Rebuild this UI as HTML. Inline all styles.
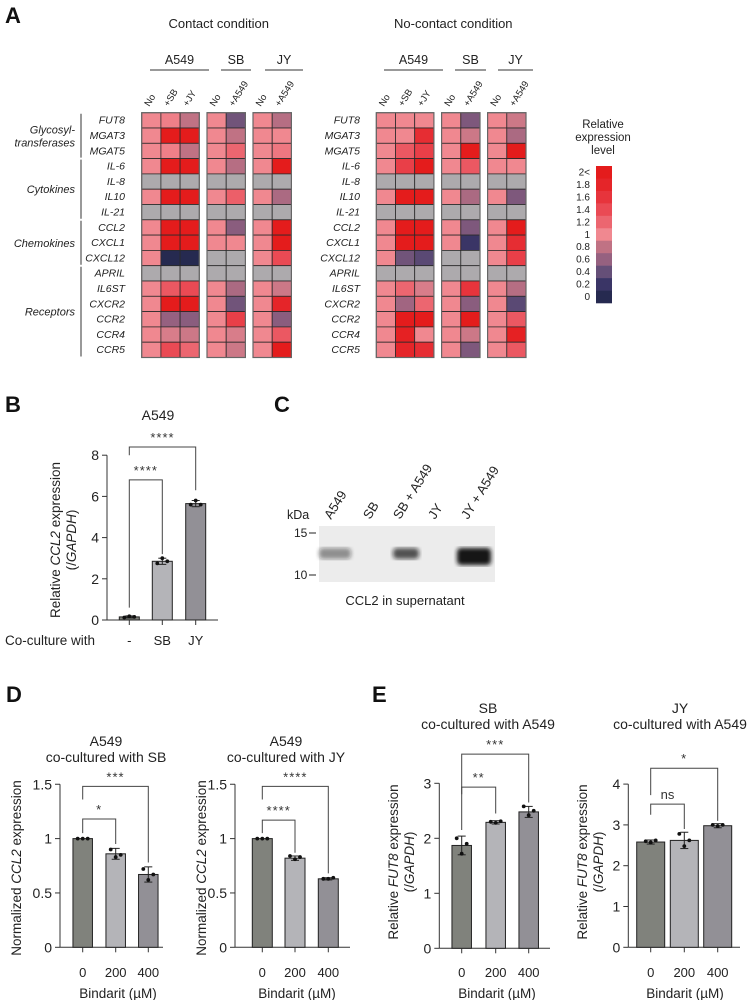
<!DOCTYPE html>
<html><head><meta charset="utf-8"><style>
body{margin:0;background:#fff}
svg{display:block;font-family:"Liberation Sans",sans-serif}
</style></head><body>
<svg id="fig" width="748" height="1000" viewBox="0 0 748 1000" xmlns="http://www.w3.org/2000/svg">
<defs>
<filter id="blur2"><feGaussianBlur stdDeviation="2.2"/></filter>
<filter id="blur1"><feGaussianBlur stdDeviation="1.2"/></filter>
</defs>
<g font-weight="bold" font-size="22" fill="#111">
<text x="5" y="23">A</text>
<text x="5" y="412">B</text>
<text x="274" y="412">C</text>
<text x="6" y="702">D</text>
<text x="372" y="702">E</text>
</g>
<g id="heat"></g>
<g id="legend"></g>
<g id="blot"></g>
<g id="bars"></g>
</svg>
<script>
const NS="http://www.w3.org/2000/svg";
function mk(parent,tag,attrs,text){const e=document.createElementNS(NS,tag);for(const k in attrs)e.setAttribute(k,attrs[k]);if(text!==undefined)e.textContent=text;parent.appendChild(e);return e;}

// ---------- Heatmap data ----------
const genes=["FUT8","MGAT3","MGAT5","IL-6","IL-8","IL10","IL-21","CCL2","CXCL1","CXCL12","APRIL","IL6ST","CXCR2","CCR2","CCR4","CCR5"];
const groups=[["Glycosyl-","transferases",0,2],["Cytokines","",3,6],["Chemokines","",7,9],["Receptors","",10,15]];
const colLabels=[["No","+SB","+JY"],["No","+A549"],["No","+A549"]];
const blockNames=["A549","SB","JY"];
const N=null;
// contact condition columns
const cA549No=[1,1,1,1,N,1,N,1,1,1,N,1,1,1,1,1];
const cA549SB=[1.05,2,1.05,2,N,2,N,2,2,0,N,1.3,2,0.6,0.9,1.4];
const cA549JY=[0.8,2,0.8,2,N,2,N,2,2,0,N,1.4,2,0.55,0.85,1.2];
const cSBNo=[1,1,1,1,N,1,N,1,1,N,N,1,1,1,1,1];
const cSBA549=[0.45,0.8,1.2,0.75,N,1.25,N,0.55,1.0,N,N,0.7,0.45,1.5,0.9,0.85];
const cJYNo=[1,1,1,1,N,1,N,1,1,1,N,1,1,1,1,1];
const cJYA549=[0.75,1,1.1,2,N,0.7,N,2,2,1.4,N,0.85,1.8,0.55,1.3,2];
// no-contact condition columns
const nA549No=[1,1,1,1,N,1,N,1,1,1,N,1,1,1,1,1];
const nA549SB=[1.0,1.0,1.3,1.5,N,2,N,2,2,0.45,N,1.2,0.65,2,1.9,1.8];
const nA549JY=[1.0,1.7,1.5,2,N,2,N,2,2,0.35,N,0.9,1.2,2,1.0,1.7];
const nSBNo=[1,1,1,1,N,1,N,1,1,N,N,1,1,1,1,1];
const nSBA549=[0.5,0.85,2,1.3,N,0.7,N,0.5,0.2,N,N,1.6,0.55,2,0.85,0.5];
const nJYNo=[1,1,1,1,N,1,N,1,1,1,N,1,1,1,1,1];
const nJYA549=[0.85,0.7,2,1.0,N,0.5,N,2,1.7,1.5,N,0.75,0.35,1.3,1.9,1.3];
const legendTicks=["2<","1.8","1.6","1.4","1.2","1","0.8","0.6","0.4","0.2","0"];

const stops=[[0,[38,42,80]],[0.2,[58,53,102]],[0.4,[101,79,120]],[0.6,[150,97,128]],[0.8,[192,114,132]],[1,[240,136,144]],[1.2,[236,102,112]],[1.4,[234,74,84]],[1.6,[231,52,60]],[1.8,[229,37,41]],[2,[228,28,28]]];
function color(v){if(v===null)return "#adaaad";v=Math.max(0,Math.min(2,v));for(let i=0;i<stops.length-1;i++){const a=stops[i],b=stops[i+1];if(v<=b[0]){const t=(v-a[0])/(b[0]-a[0]);const c=a[1].map((x,j)=>Math.round(x+(b[1][j]-x)*t));return `rgb(${c})`;}}return "rgb(228,28,28)";}

const heat=document.getElementById('heat');
const cellH=15.3, top0=112.7;
function drawHeat(ox,title,cols,labelX,blockLines){
  const g=mk(heat,'g',{});
  
  
  const tt=mk(g,'text',{x:ox+77,y:28,'text-anchor':'middle','font-size':13,fill:'#222'},title);
  
  
  const blockX=[0,65.3,111.3];
  const cw=19.2;
  cols.forEach((block,bi)=>{
    const bx=ox+blockX[bi];
    const nm=mk(g,'text',{x:blockLines[bi][0]+(blockLines[bi][1]-blockLines[bi][0])/2,y:64,'text-anchor':'middle','font-size':12.5,fill:'#222'},blockNames[bi]);
    
    
    mk(g,'line',{x1:blockLines[bi][0],x2:blockLines[bi][1],y1:70,y2:70,stroke:'#333','stroke-width':1});
    block.forEach((col,k)=>{
      const cx=bx+k*cw;
      const lb=mk(g,'text',{x:cx+cw/2-2,y:107,'font-size':9.5,fill:'#222',transform:`rotate(-58 ${cx+cw/2-2} 107)`},colLabels[bi][k]);
      
      
      col.forEach((v,r)=>{
        const c=mk(g,'rect',{x:cx,y:top0+r*cellH,width:cw,height:cellH,fill:color(v),stroke:'#2a2a2a','stroke-width':0.8});
        
        
      });
    });
    mk(g,'rect',{x:bx,y:top0,width:cw*block.length,height:cellH*genes.length,fill:'none',stroke:'#666','stroke-width':1.2});
  });
  genes.forEach((gn,r)=>{
    const t=mk(g,'text',{x:labelX,y:top0+r*cellH+11,'text-anchor':'end','font-size':10.5,'font-style':'italic',fill:'#222'},gn);
    
    
  });
}
drawHeat(141.7,"Contact condition",[[cA549No,cA549SB,cA549JY],[cSBNo,cSBA549],[cJYNo,cJYA549]],125,[[150,209],[221,251],[265,303]]);
drawHeat(376.3,"No-contact condition",[[nA549No,nA549SB,nA549JY],[nSBNo,nSBA549],[nJYNo,nJYA549]],360,[[384,443],[455,486],[498,533]]);
groups.forEach(gr=>{
  const y1=top0+gr[2]*cellH+1,y2=top0+(gr[3]+1)*cellH-1;
  mk(heat,'line',{x1:81,x2:81,y1:y1,y2:y2,stroke:'#333','stroke-width':1});
  const cy=(y1+y2)/2;
  if(gr[1]){
    const a=mk(heat,'text',{x:75,y:cy-2,'text-anchor':'end','font-size':11,'font-style':'italic',fill:'#222'},gr[0]);
    
    
    const b=mk(heat,'text',{x:75,y:cy+11,'text-anchor':'end','font-size':11,'font-style':'italic',fill:'#222'},gr[1]);
    
    
  } else {
    const a=mk(heat,'text',{x:75,y:cy+4,'text-anchor':'end','font-size':11,'font-style':'italic',fill:'#222'},gr[0]);
    
    
  }
});
// legend
const leg=document.getElementById('legend');
["Relative","expression","level"].forEach((s,i)=>{
  const t=mk(leg,'text',{x:603,y:128+i*13,'text-anchor':'middle','font-size':11.5,fill:'#222'},s);
  
  
});
const lh=(303-166)/legendTicks.length;
legendTicks.forEach((t,i)=>{
  const v=2-i*0.2;
  const r=mk(leg,'rect',{x:596,y:166+i*lh,width:16,height:lh+0.3,fill:color(v)});
  
  
  const tx=mk(leg,'text',{x:590,y:166+i*lh+9.5,'text-anchor':'end','font-size':10,fill:'#222'},t);
  
  
});

// ---------- Blot ----------
const blot=document.getElementById('blot');
const laneNames=["A549","SB","SB + A549","JY","JY + A549"];
const laneX=[337,376,406,441,474];
const bandIntensity=[0.25,0,0.6,0,1];
mk(blot,'rect',{x:319,y:526,width:176,height:56,fill:'#ececec'});
laneNames.forEach((n,i)=>{
  const t=mk(blot,'text',{x:laneX[i]-6,y:520,'font-size':13,fill:'#222',transform:`rotate(-58 ${laneX[i]-6} 520)`},n);
  
  
  const b=bandIntensity[i];
  if(b>0){
    const w=b>0.8?34:(b>0.4?26:32);
    const e=mk(blot,'rect',{x:laneX[i]-w/2+(i==0?-2:0),y:548,width:w,height:b>0.8?17:11,rx:4,fill:`rgba(20,20,20,${0.25+0.75*b})`,filter:'url(#blur2)'});
    
    
  }
});
mk(blot,'text',{x:287,y:519,'font-size':12.5,fill:'#222'},"kDa");
mk(blot,'text',{x:294,y:537,'font-size':12,fill:'#222'},"15");
mk(blot,'line',{x1:309,x2:316,y1:533,y2:533,stroke:'#222'});
mk(blot,'text',{x:294,y:579,'font-size':12,fill:'#222'},"10");
mk(blot,'line',{x1:309,x2:316,y1:575,y2:575,stroke:'#222'});
const cap=mk(blot,'text',{x:405,y:605,'text-anchor':'middle','font-size':13,fill:'#222'},"CCL2 in supernatant");



// ---------- Bar chart data ----------
const bCats=["-","SB","JY"];
const bMeans=[0.15,2.85,5.65];
const bSD=[0.05,0.15,0.15];
const bReps=[[0.12,0.18,0.15],[2.75,3.0,2.85],[5.6,5.8,5.6]];
const bTicks=[0,2,4,6,8];
const bSig=[[0,1,6.8,0.6,3.2,"****"],[0,2,8.4,8.0,6.3,"****"]];

const dCats=["0","200","400"];
const d1Means=[1,0.86,0.67];
const d1SD=[0,0.05,0.07];
const d1Reps=[[1,1,1],[0.9,0.83,0.85],[0.72,0.62,0.67]];
const d2Means=[1,0.82,0.63];
const d2SD=[0,0.02,0.01];
const d2Reps=[[1,1,1],[0.84,0.81,0.83],[0.63,0.63,0.64]];
const dTicks=[0,0.5,1,1.5];
const d1Sig=[[0,1,1.18,1.05,0.95,"*"],[0,2,1.48,1.36,0.78,"***"]];
const d2Sig=[[0,1,1.17,1.05,0.87,"****"],[0,2,1.48,1.36,0.68,"****"]];

const e1Means=[1.87,2.29,2.48];
const e1SD=[0.17,0.03,0.1];
const e1Reps=[[2.0,1.72,1.9],[2.3,2.28,2.31],[2.58,2.42,2.5]];
const e1Ticks=[0,1,2,3];
const e1Sig=[[0,1,2.93,2.8,2.45,"**"],[0,2,3.53,2.15,2.65,"***"]];
const e2Means=[2.58,2.62,2.98];
const e2SD=[0.05,0.2,0.05];
const e2Reps=[[2.6,2.57,2.62],[2.78,2.48,2.62],[3.0,2.97,3.0]];
const e2Ticks=[0,1,2,3,4];
const e2Sig=[[0,1,3.51,3.25,2.9,"ns"],[0,2,4.39,3.73,3.1,"*"]];

const barColors=["#80827c","#b4b4b8","#929096"];
const bars=document.getElementById('bars');
function barChart(o){
  const g=mk(bars,'g',{});
  
  
  const y=v=>o.y0-v*o.ppu;
  const x=i=>o.cx[i];
  mk(g,'line',{x1:o.ax,x2:o.ax,y1:y(o.ticks[o.ticks.length-1]),y2:o.y0,stroke:'#333','stroke-width':1});
  mk(g,'line',{x1:o.ax,x2:o.axEnd,y1:o.y0,y2:o.y0,stroke:'#333','stroke-width':1});
  o.ticks.forEach(t=>{
    mk(g,'line',{x1:o.ax-5,x2:o.ax,y1:y(t),y2:y(t),stroke:'#333'});
    const tl=mk(g,'text',{x:o.ax-8,y:y(t)+5,'text-anchor':'end','font-size':14,fill:'#222'},String(t));
    
    
  });
  o.means.forEach((m,i)=>{
    const r=mk(g,'rect',{x:x(i)-o.bw/2,y:y(m),width:o.bw,height:o.y0-y(m),fill:barColors[i],stroke:'#222','stroke-width':1});
    
    
    mk(g,'line',{x1:x(i),x2:x(i),y1:o.y0,y2:o.y0+5,stroke:'#333'});
    const tl=mk(g,'text',{x:x(i),y:o.catY,'text-anchor':'middle','font-size':13,fill:'#222'},o.cats[i]);
    
    
    const sd=o.sd[i];
    if(sd>0){
      mk(g,'line',{x1:x(i),x2:x(i),y1:y(m+sd),y2:y(m-sd),stroke:'#222','stroke-width':1});
      mk(g,'line',{x1:x(i)-4,x2:x(i)+4,y1:y(m+sd),y2:y(m+sd),stroke:'#222','stroke-width':1});
      mk(g,'line',{x1:x(i)-4,x2:x(i)+4,y1:y(m-sd),y2:y(m-sd),stroke:'#222','stroke-width':1});
    }
    o.reps[i].forEach((rv,k)=>{
      const d=mk(g,'circle',{cx:x(i)+(k-1)*5,cy:y(rv),r:1.9,fill:'#111'});
      
      
    });
  });
  o.sig.forEach(s=>{
    const [a,b,lv,le,re,lab]=s;
    mk(g,'polyline',{points:`${x(a)},${y(le)} ${x(a)},${y(lv)} ${x(b)},${y(lv)} ${x(b)},${y(re)}`,fill:'none',stroke:'#444','stroke-width':1});
    const st=mk(g,'text',{x:(x(a)+x(b))/2,y:y(lv)-5,'text-anchor':'middle','font-size':13,fill:'#333','letter-spacing':lab==="ns"?0:1},lab);
    
    
  });
  o.title.forEach((t,i)=>{
    const tt=mk(g,'text',{x:o.titleX,y:o.titleY+i*16,'text-anchor':'middle','font-size':14,fill:'#222'},t);
    
    
  });
  o.ylab.forEach((parts,i)=>{
    const lx=o.ylabX+i*16, ly=o.ylabY;
    const t=mk(g,'text',{x:lx,y:ly,'text-anchor':'middle','font-size':13.5,fill:'#222',transform:`rotate(-90 ${lx} ${ly})`});
    
    
    parts.forEach(p=>mk(t,'tspan',{'font-style':p[1]?'italic':'normal'},p[0]));
  });
  if(o.xlab){
    const xt=mk(g,'text',{x:o.xlab[1],y:o.xlab[2],'text-anchor':o.xlab[3]||'middle','font-size':13.5,fill:'#222'},o.xlab[0]);
    
    
  }
}
barChart({name:'chart-b',ax:107,axEnd:218,y0:620,ppu:20.6,ticks:bTicks,means:bMeans,sd:bSD,reps:bReps,cats:bCats,cx:[129.3,162.3,195.7],bw:20,catY:645,sig:bSig,title:["A549"],titleX:158,titleY:420,ylab:[[["Relative ",0],["CCL2",1],[" expression",0]],[["(/",0],["GAPDH",1],[")",0]]],ylabX:60,ylabY:540,xlab:["Co-culture with",95,645,'end']});
barChart({name:'chart-d-sb',ax:60,axEnd:163,y0:947.3,ppu:108.7,ticks:dTicks,means:d1Means,sd:d1SD,reps:d1Reps,cats:dCats,cx:[82.7,115.7,148.3],bw:19.5,catY:977,sig:d1Sig,title:["A549","co-cultured with SB"],titleX:106,titleY:746,ylab:[[["Normalized ",0],["CCL2",1],[" expression",0]]],ylabX:21,ylabY:868,xlab:["Bindarit (µM)",118,998]});
barChart({name:'chart-d-jy',ax:235,axEnd:350,y0:947.3,ppu:108.7,ticks:dTicks,means:d2Means,sd:d2SD,reps:d2Reps,cats:dCats,cx:[262.3,295,328.3],bw:20,catY:977,sig:d2Sig,title:["A549","co-cultured with JY"],titleX:286,titleY:746,ylab:[[["Normalized ",0],["CCL2",1],[" expression",0]]],ylabX:206,ylabY:868,xlab:["Bindarit (µM)",297,998]});
barChart({name:'chart-e-sb',ax:439.3,axEnd:550,y0:948.3,ppu:55,ticks:e1Ticks,means:e1Means,sd:e1SD,reps:e1Reps,cats:dCats,cx:[461.7,495.7,528.7],bw:19.5,catY:977,sig:e1Sig,title:["SB","co-cultured with A549"],titleX:488,titleY:713,ylab:[[["Relative ",0],["FUT8",1],[" expression",0]],[["(/",0],["GAPDH",1],[")",0]]],ylabX:398,ylabY:862,xlab:["Bindarit (µM)",497,998]});
barChart({name:'chart-e-jy',ax:628.3,axEnd:740,y0:947.3,ppu:40.8,ticks:e2Ticks,means:e2Means,sd:e2SD,reps:e2Reps,cats:dCats,cx:[650.7,684.3,717.7],bw:28,catY:977,sig:e2Sig,title:["JY","co-cultured with A549"],titleX:680,titleY:713,ylab:[[["Relative ",0],["FUT8",1],[" expression",0]],[["(/",0],["GAPDH",1],[")",0]]],ylabX:587,ylabY:862,xlab:["Bindarit (µM)",685,998]});
</script>
</body></html>
